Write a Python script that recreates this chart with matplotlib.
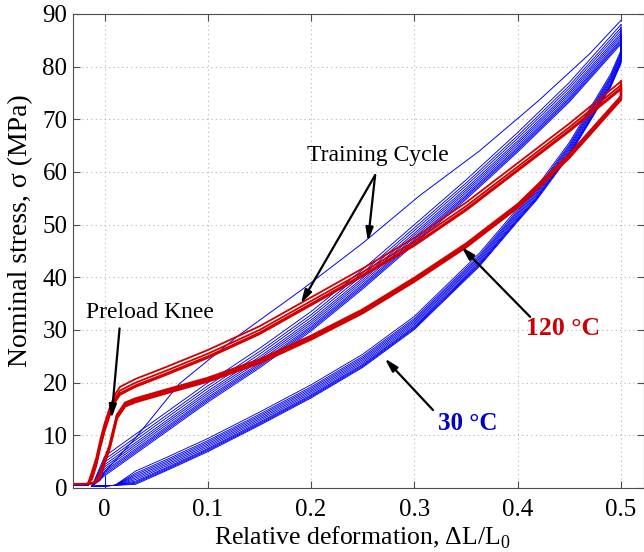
import numpy as np
import matplotlib
matplotlib.use("Agg")
import matplotlib.pyplot as plt

plt.rcParams['font.family'] = ['Liberation Serif', 'DejaVu Serif']
plt.rcParams['mathtext.fontset'] = 'custom'
plt.rcParams['mathtext.rm'] = 'Liberation Serif'

# ---- 30 C (blue) : training loading + repeated cycles
train_x = [-0.012, -0.004, 0.0, 0.03, 0.0725, 0.13, 0.19, 0.25, 0.305, 0.363, 0.42, 0.47, 0.5]
train_y = [0.4, 1.5, 3.0, 9.5, 19.8, 29.0, 37.5, 46.5, 55.5, 64.0, 73.5, 82.5, 88.8]

blue_load_x = [-0.012, 0.0, 0.05, 0.1, 0.15, 0.2, 0.25, 0.3, 0.35, 0.4, 0.45, 0.5]
blue_load_y = [0.4, 3.5, 10.5, 17.5, 24.0, 31.0, 39.0, 47.5, 56.0, 65.0, 74.5, 85.5]

blue_unload_x = [0.5, 0.5, 0.49, 0.47, 0.45, 0.418, 0.4, 0.363, 0.3, 0.25, 0.2, 0.15, 0.1, 0.06, 0.03, 0.01, -0.012]
blue_unload_y = [85.5, 81.5, 77.0, 70.5, 64.0, 55.5, 51.5, 43.0, 31.0, 23.8, 18.0, 12.8, 7.8, 4.2, 1.6, 0.5, 0.3]

# per-cycle offsets (MPa)
blue_load_off = [2.5, 1.9, 1.4, 0.9, 0.5, 0.1, -0.3, -0.6, -0.9, -1.2]
blue_unload_off = [1.6, 1.2, 0.9, 0.6, 0.3, 0.0, -0.3, -0.5, -0.7, -0.9]

# ---- 120 C (red)
red_load_x = [-0.016, -0.012, -0.008, -0.004, 0.0, 0.005, 0.01, 0.015, 0.03, 0.06, 0.1, 0.15, 0.2, 0.25, 0.3, 0.35, 0.4, 0.45, 0.5]
red_load_y = [0.8, 2.0, 4.5, 8.0, 11.0, 14.0, 16.5, 18.0, 19.5, 21.8, 25.0, 29.5, 35.0, 40.5, 46.3, 53.0, 60.5, 68.0, 76.0]

red_unload_x = [0.5, 0.5, 0.45, 0.4, 0.35, 0.3, 0.25, 0.2, 0.15, 0.1, 0.06, 0.03, 0.02, 0.012, 0.005, 0.0, -0.005, -0.01, -0.016]
red_unload_y = [76.0, 74.0, 63.0, 53.5, 46.0, 39.5, 33.5, 28.5, 24.0, 20.5, 18.3, 16.6, 15.8, 13.5, 7.8, 5.0, 2.0, 1.0, 0.8]

red_load_off = [1.2, 0.5, 0.0, -0.3]
red_unload_off = [0.4, 0.1, -0.1, -0.3]

preload_x = [-0.031, -0.016]
blue_pre_y = [0.5, 0.5]
red_pre_y = [0.75, 0.75]

fig = plt.figure(figsize=(6.44, 5.52), dpi=100)
ax = fig.add_axes([73/644, 64/552, 570.5/644, 474/552])

blue = '#0000f0'
red = '#d10000'

ax.plot(preload_x, blue_pre_y, color=blue, lw=0.7)
ax.plot(train_x, train_y, color=blue, lw=0.7)
ax.plot([0.0, 0.0], [0.0, 2.3], color=blue, lw=0.7)
for k in range(len(blue_load_off)):
    ly = np.array(blue_load_y)
    ly[1:] = ly[1:] + blue_load_off[k]
    uy = np.array(blue_unload_y)
    uy[:-2] = uy[:-2] + blue_unload_off[k]
    uy[0] = ly[-1]
    ax.plot(blue_load_x, ly, color=blue, lw=0.65)
    ax.plot(blue_unload_x, uy, color=blue, lw=0.65)

ax.plot(preload_x, red_pre_y, color=red, lw=1.6)
for k in range(len(red_load_off)):
    ly = np.array(red_load_y)
    ly[1:] = ly[1:] + red_load_off[k]
    uy = np.array(red_unload_y)
    uy[:-2] = uy[:-2] + red_unload_off[k]
    uy[0] = ly[-1]
    ax.plot(red_load_x, ly, color=red, lw=1.3)
    ax.plot(red_unload_x, uy, color=red, lw=1.6)

ax.set_xlim(-0.0305, 0.5218)
ax.set_ylim(0, 90)
ax.set_xticks([0, 0.1, 0.2, 0.3, 0.4, 0.5])
ax.set_xticklabels(['0', '0.1', '0.2', '0.3', '0.4', '0.5'])
ax.set_yticks(range(0, 91, 10))
ax.tick_params(direction='in', top=True, right=True, labelsize=18, length=5, color='0.3')
ax.tick_params(axis='x', pad=8)
ax.tick_params(axis='y', pad=4)
for s in ax.spines.values():
    s.set_color('0.3')
ax.grid(True, linestyle=(0, (1, 3)), color='0.7', lw=0.8)

ax.set_xlabel(r'Relative deformation, ΔL/L$_0$', fontsize=18.5)
ax.set_ylabel('Nominal stress, σ (MPa)', fontsize=20)
ax.xaxis.set_label_coords(0.508, -0.077)
ax.yaxis.set_label_coords(-0.070, 0.542)

arr = dict(arrowstyle='-|>,head_length=0.8,head_width=0.22', color='k', lw=1.6, shrinkA=0, shrinkB=0)
ax.text(0.265, 63.2, 'Training Cycle', fontsize=17, ha='center', va='center')
ax.annotate('', xy=(0.19, 35.0), xytext=(0.262, 59.4), arrowprops=arr)
ax.annotate('', xy=(0.255, 46.8), xytext=(0.262, 59.4), arrowprops=arr)

ax.text(0.0442, 33.4, 'Preload Knee', fontsize=17, ha='center', va='center')
ax.annotate('', xy=(0.0067, 13.2), xytext=(0.0146, 30.3), arrowprops=arr)

ax.text(0.444, 30.2, '120 °C', fontsize=18.5, fontweight='bold', color='#cc0000', ha='center', va='center')
ax.annotate('', xy=(0.3455, 45.8), xytext=(0.412, 32.5), arrowprops=arr)

ax.text(0.352, 12.3, '30 °C', fontsize=18, fontweight='bold', color='#0000cc', ha='center', va='center')
ax.annotate('', xy=(0.2713, 24.6), xytext=(0.318, 14.8), arrowprops=arr)

fig.savefig('out.png', dpi=100)
